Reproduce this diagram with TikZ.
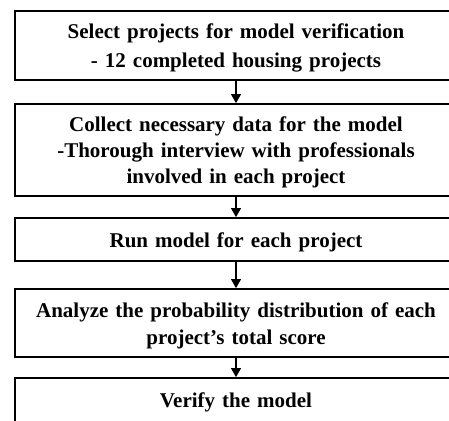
\documentclass[tikz,border=0pt]{standalone}
\usepackage{fontspec}
\setmainfont{Liberation Serif}
\usetikzlibrary{arrows.meta}
\begin{document}
\begin{tikzpicture}[x=1pt,y=-1pt,
  stepbox/.style={draw=black, line width=1.8pt, rectangle, minimum width=442pt, inner sep=0pt},
  steptext/.style={text width=436pt, align=center, inner sep=0pt, yshift=-2.5pt,
    font=\fontsize{21}{26}\selectfont\bfseries},
  flow/.style={line width=1.2pt, -{Triangle[length=9pt,width=10pt]}}]
\useasboundingbox (0,0) rectangle (449,420);
\clip (0,0) rectangle (449,420);
\node[stepbox, minimum height=69pt] (b1) at (236,45.5) {};
\node[stepbox, minimum height=92pt] (b2) at (236,150) {};
\node[stepbox, minimum height=43pt] (b3) at (236,239.5) {};
\node[stepbox, minimum height=68pt] (b4) at (236,323) {};
\node[stepbox, minimum height=50pt] (b5) at (236,403) {};
\node[steptext, font=\fontsize{21}{29}\selectfont\bfseries] (t1) at (b1.center) {Select projects for model verification\\ - 12 completed housing projects};
\node[steptext] (t2) at (b2.center) {Collect necessary data for the model\\-Thorough interview with professionals\\ involved in each project};
\node[steptext] (t3) at (b3.center) {Run model for each project};
\node[steptext, font=\fontsize{21}{27}\selectfont\bfseries] (t4) at (b4.center) {Analyze the probability distribution of each\\ project's total score};
\node[steptext, yshift=3pt] (t5) at (b5.center) {Verify the model};
\draw[flow] (b1.south) -- (b2.north);
\draw[flow] (b2.south) -- (b3.north);
\draw[flow] (b3.south) -- (b4.north);
\draw[flow] (b4.south) -- (b5.north);
\end{tikzpicture}
\end{document}
